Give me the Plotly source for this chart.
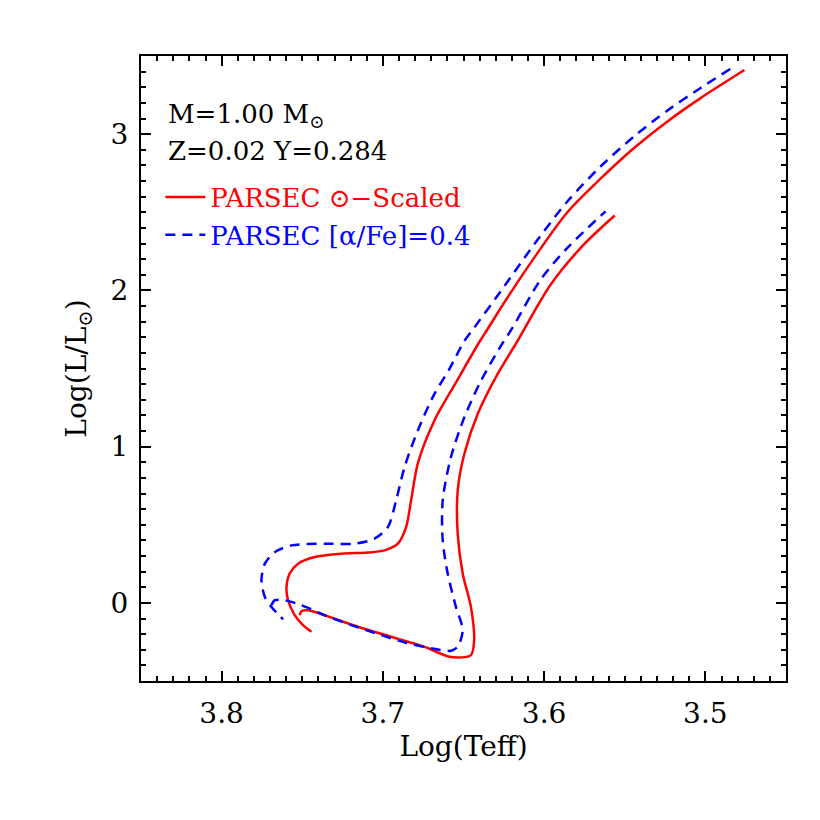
"""HR diagram: PARSEC 1 Msun tracks, solar-scaled vs alpha-enhanced."""

import plotly.graph_objects as go

FONT = 'DejaVu Serif'

# pre-main-sequence part (Hayashi + Henyey tracks), solar scaled
red_pms_teff = [3.4758, 3.5032, 3.5237, 3.5444, 3.5650, 3.5856, 3.6062, 3.6268, 3.6351,
                3.6398, 3.6547, 3.6681, 3.6784, 3.6825, 3.6856, 3.6907, 3.6990, 3.7093,
                3.7258, 3.7423, 3.7526, 3.7578, 3.7598, 3.7588, 3.7547, 3.7495, 3.7443]
red_pms_lum = [3.410, 3.229, 3.080, 2.910, 2.715, 2.500, 2.208, 1.889, 1.751,
               1.676, 1.410, 1.166, 0.890, 0.655, 0.485, 0.379, 0.336, 0.322,
               0.315, 0.294, 0.251, 0.188, 0.092, 0.017, -0.078, -0.142, -0.185]

# main sequence + red giant branch, solar scaled
red_ms_teff = [3.7516, 3.7505, 3.7464, 3.7361, 3.7155, 3.6949, 3.6743, 3.6578, 3.6454,
               3.6434, 3.6454, 3.6505, 3.6536, 3.6536, 3.6495, 3.6412, 3.6289, 3.6165,
               3.6124, 3.5959, 3.5753, 3.5562]
red_ms_lum = [-0.079, -0.053, -0.047, -0.079, -0.153, -0.217, -0.281, -0.347, -0.334,
              -0.238, -0.026, 0.188, 0.443, 0.719, 0.953, 1.209, 1.464, 1.676,
              1.751, 2.038, 2.294, 2.479]

# pre-main-sequence part, [alpha/Fe]=0.4
blue_pms_teff = [3.4846, 3.5032, 3.5237, 3.5444, 3.5650, 3.5856, 3.6062, 3.6268, 3.6434,
                 3.6495, 3.6588, 3.6681, 3.6784, 3.6866, 3.6918, 3.6969, 3.7052, 3.7176,
                 3.7361, 3.7567, 3.7670, 3.7732, 3.7753, 3.7732, 3.7691, 3.7618]
blue_pms_lum = [3.417, 3.294, 3.150, 2.984, 2.793, 2.569, 2.294, 1.996, 1.761,
                1.676, 1.496, 1.336, 1.102, 0.868, 0.655, 0.485, 0.411, 0.379,
                0.379, 0.368, 0.325, 0.251, 0.145, 0.038, -0.026, -0.106]

# main sequence + red giant branch, [alpha/Fe]=0.4
blue_ms_teff = [3.7691, 3.7670, 3.7609, 3.7505, 3.7361, 3.7196, 3.7011, 3.6845, 3.6639,
                3.6578, 3.6536, 3.6505, 3.6547, 3.6598, 3.6629, 3.6629, 3.6578, 3.6495,
                3.6392, 3.6268, 3.6196, 3.6021, 3.5856, 3.5619]
blue_ms_lum = [-0.015, 0.017, 0.017, -0.015, -0.079, -0.142, -0.206, -0.259, -0.302,
               -0.306, -0.281, -0.174, -0.026, 0.188, 0.400, 0.655, 0.932, 1.187,
               1.421, 1.645, 1.761, 2.070, 2.272, 2.506]

SERIES = [
    ('solar', "<span style='color:#ff0000'>PARSEC ⊙−Scaled</span>", '#ff0000', 'solid',
     [(red_pms_teff, red_pms_lum), (red_ms_teff, red_ms_lum)]),
    ('alpha', "<span style='color:#0000ff'>PARSEC [α/Fe]=0.4</span>", '#0000ff', '10px,7px',
     [(blue_pms_teff, blue_pms_lum), (blue_ms_teff, blue_ms_lum)]),
]

fig = go.Figure()
for key, label, color, dash, parts in SERIES:
    for i, (teff, lum) in enumerate(parts):
        fig.add_trace(
            go.Scatter(
                x=teff,
                y=lum,
                mode='lines',
                name=label,
                legendgroup=key,
                showlegend=(i == 0),
                line=dict(color=color, dash=dash, width=2.5, shape='spline', smoothing=0.8),
            )
        )

axis_common = dict(
    showline=True,
    linecolor='black',
    linewidth=2,
    mirror='ticks',
    ticks='inside',
    ticklen=10,
    tickwidth=2,
    tickcolor='black',
    showgrid=False,
    zeroline=False,
    tickfont=dict(family=FONT, size=28, color='black'),
)

fig.update_xaxes(
    range=[3.85, 3.45],
    dtick=0.1,
    tick0=3.5,
    minor=dict(dtick=0.01, ticks='inside', ticklen=5, tickwidth=2, tickcolor='black', showgrid=False),
    ticklabelstandoff=6,
    title=dict(text='Log(Teff)', font=dict(family=FONT, size=28, color='black'), standoff=2),
    **axis_common,
)
fig.update_yaxes(
    range=[-0.5, 3.5],
    dtick=1,
    tick0=0,
    minor=dict(dtick=0.1, ticks='inside', ticklen=5, tickwidth=2, tickcolor='black', showgrid=False),
    ticklabelstandoff=5,
    title=dict(text='Log(L/L<sub>⊙</sub>)', font=dict(family=FONT, size=28, color='black'), standoff=16),
    **axis_common,
)

fig.add_annotation(text='M=1.00 M<sub>⊙</sub>', x=0.038, y=0.904, xref='paper', yref='paper',
                   xanchor='left', yanchor='middle', showarrow=False,
                   font=dict(family=FONT, size=26, color='black'))
fig.add_annotation(text='Z=0.02 Y=0.284', x=0.038, y=0.848, xref='paper', yref='paper',
                   xanchor='left', yanchor='middle', showarrow=False,
                   font=dict(family=FONT, size=26, color='black'))

fig.update_layout(
    width=820,
    height=820,
    paper_bgcolor='white',
    plot_bgcolor='white',
    margin=dict(l=133, r=42, t=48, b=147),
    showlegend=True,
    legend=dict(
        x=0.03,
        y=0.812,
        xanchor='left',
        yanchor='top',
        bgcolor='rgba(0,0,0,0)',
        font=dict(family=FONT, size=26),
        tracegroupgap=1,
        itemwidth=40,
    ),
)

fig.write_html("out.html")
